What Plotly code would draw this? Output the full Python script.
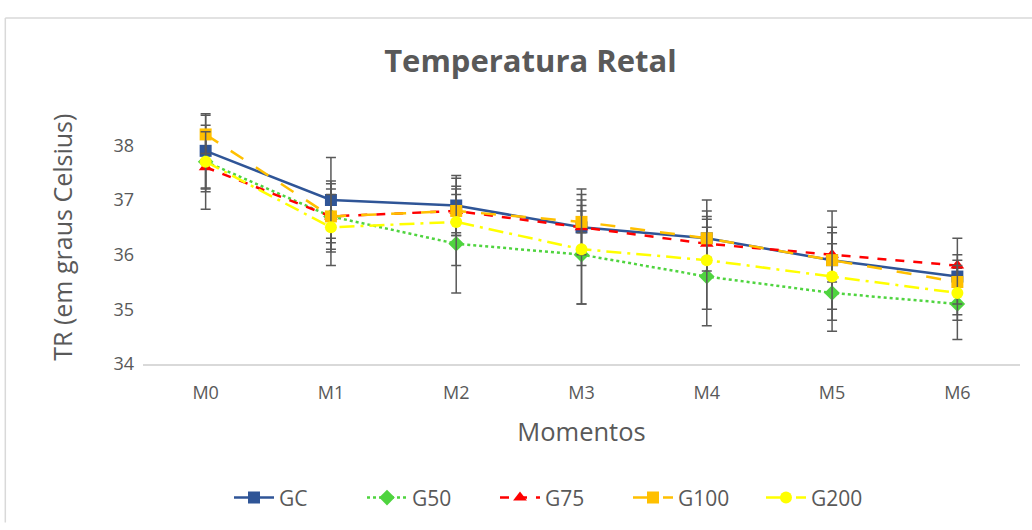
import plotly.graph_objects as go

momentos = ["M0", "M1", "M2", "M3", "M4", "M5", "M6"]

gc = [37.9, 37.0, 36.9, 36.5, 36.3, 35.9, 35.6]
g50 = [37.7, 36.7, 36.2, 36.0, 35.6, 35.3, 35.1]
g75 = [37.6, 36.7, 36.8, 36.5, 36.2, 36.0, 35.8]
g100 = [38.2, 36.7, 36.8, 36.6, 36.3, 35.9, 35.5]
g200 = [37.7, 36.5, 36.6, 36.1, 35.9, 35.6, 35.3]

gc_err = [0.68, 0.78, 0.55, 0.7, 0.7, 0.9, 0.7]
g50_err = [0.5, 0.4, 0.9, 0.9, 0.9, 0.7, 0.65]
g75_err = [0.77, 0.6, 0.45, 0.5, 0.5, 0.5, 0.2]
g100_err = [0.35, 0.65, 0.4, 0.2, 0.35, 0.3, 0.4]
g200_err = [0.55, 0.7, 0.8, 1.0, 0.9, 0.8, 0.5]

series = [
    ("GC", gc, gc_err, "#2F5597", "solid", "square"),
    ("G50", g50, g50_err, "#4FD43F", "dot", "diamond"),
    ("G75", g75, g75_err, "#FF0000", "dash", "triangle-up"),
    ("G100", g100, g100_err, "#FFC000", "longdash", "square"),
    ("G200", g200, g200_err, "#FFFF00", "longdashdot", "circle"),
]

fig = go.Figure()
for name, vals, errs, color, dash, sym in series:
    fig.add_trace(go.Scatter(
        x=momentos, y=vals, name=name, mode="lines+markers",
        line=dict(color=color, width=2.5, dash=dash),
        marker=dict(symbol=sym, size=12, color=color),
        error_y=dict(type="data", array=errs, visible=True,
                     color="#595959", thickness=1.5, width=5),
    ))

font_family = "Open Sans, DejaVu Sans, sans-serif"
grey = "#595959"

# plot area: x 143..1020 px, y 100..374 px
fig.update_layout(
    width=1032, height=530,
    margin=dict(l=143, r=12, t=100, b=156),
    paper_bgcolor="white", plot_bgcolor="white",
    font=dict(family=font_family, color=grey, size=18),
    title=dict(text="<b>Temperatura Retal</b>", x=0.514, xanchor="center",
               y=0.885, yanchor="middle",
               font=dict(size=31, color=grey, family=font_family)),
    xaxis=dict(
        type="category", range=[-0.5, 6.5],
        showline=True, linecolor="#D9D9D9", linewidth=1.5,
        showgrid=False, ticks="", ticklabelstandoff=12,
        tickfont=dict(size=18, color=grey),
        title=dict(text="Momentos", font=dict(size=25.5, color=grey), standoff=20),
    ),
    yaxis=dict(
        range=[34, 38.83], dtick=1, tick0=34,
        showline=False, showgrid=False, zeroline=False, ticks="",
        ticklabelstandoff=8,
        tickfont=dict(size=18, color=grey),
    ),
    annotations=[
        dict(text="TR (em graus Celsius)", xref="paper", yref="paper",
             x=(62 - 143) / 877, y=(371 - 243) / 274 + (3 / 274),
             xanchor="center", yanchor="middle", textangle=-90, showarrow=False,
             font=dict(size=25, color=grey, family=font_family)),
    ],
    legend=dict(orientation="h", x=(229 - 143) / 877, xanchor="left",
                y=(374 - 513) / 274, yanchor="middle",
                font=dict(size=21, color=grey), itemwidth=40,
                entrywidth=78, entrywidthmode="pixels", traceorder="normal"),
    shapes=[
        dict(type="line", xref="paper", yref="paper", x0=-0.157, x1=1.02,
             y0=1 + 85 / 274, y1=1 + 85 / 274, line=dict(color="#D9D9D9", width=1.5)),
        dict(type="line", xref="paper", yref="paper", x0=-0.157, x1=-0.157,
             y0=1 + 85 / 274, y1=-0.6, line=dict(color="#D9D9D9", width=1.5)),
    ],
)

fig.write_html("out.html", config={"displayModeBar": False},
               post_script="document.body.style.margin='0';")
